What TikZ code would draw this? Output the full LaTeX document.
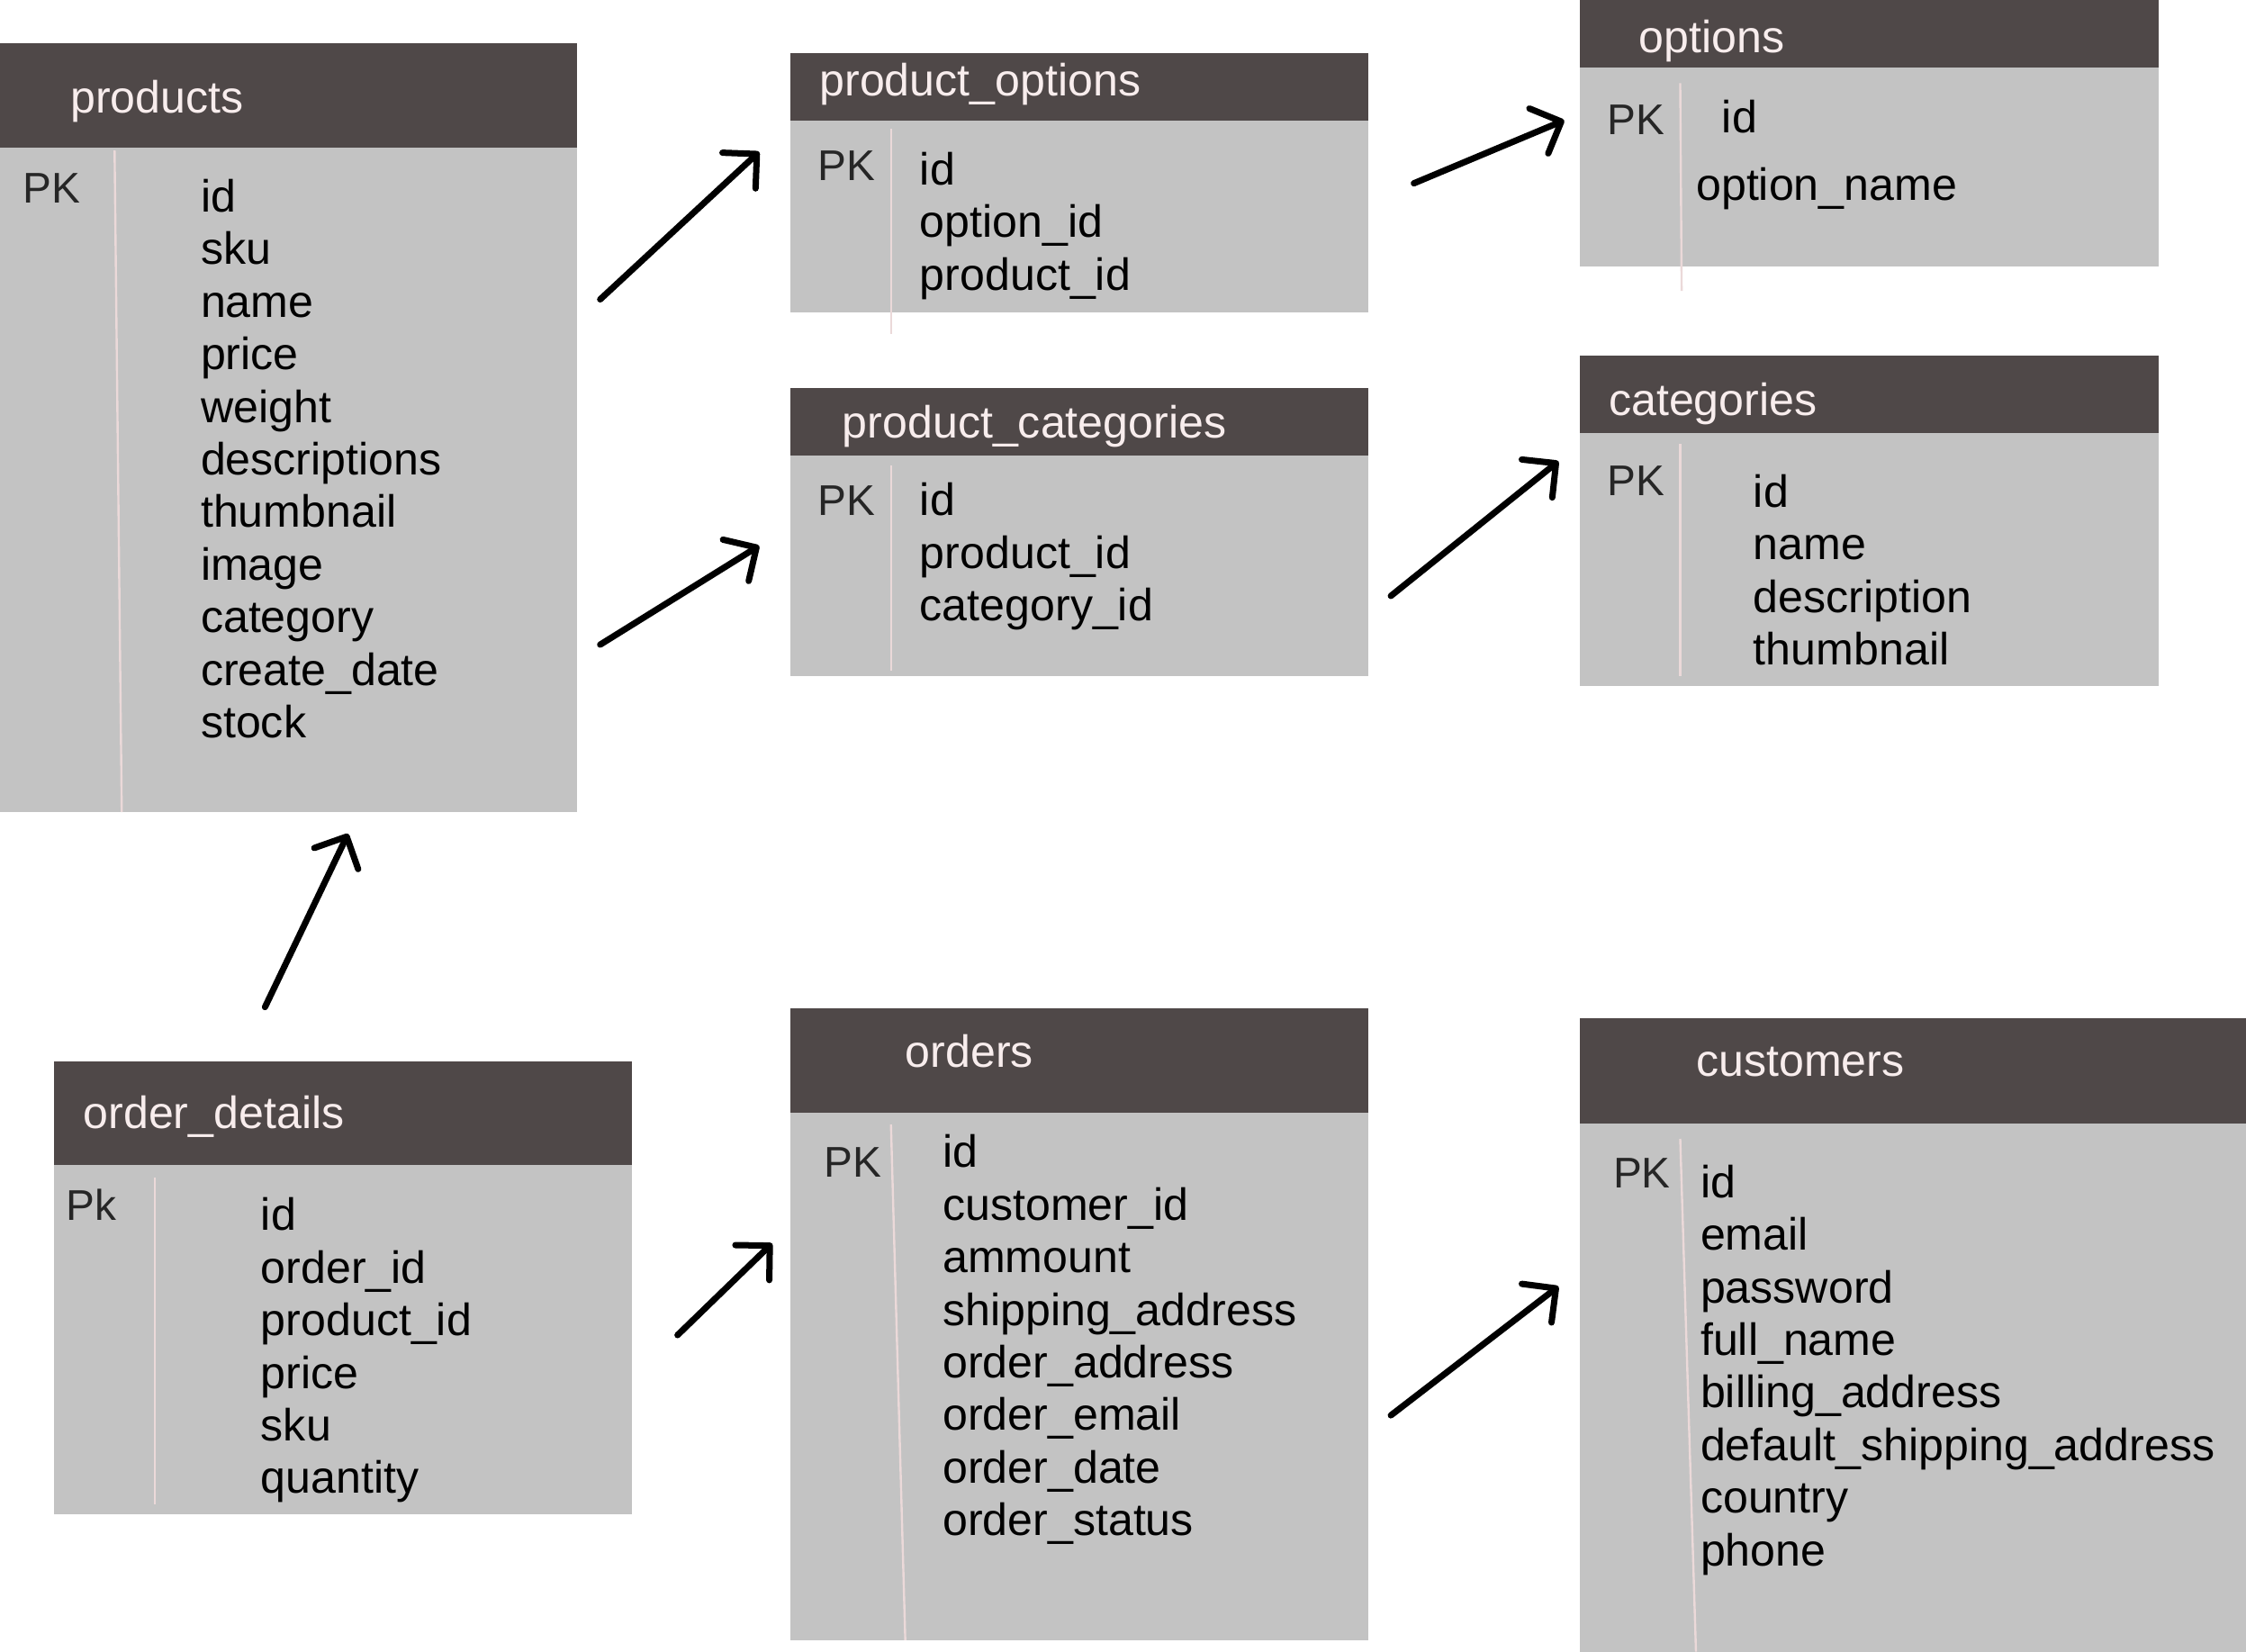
\documentclass[tikz,border=0pt]{standalone}
\usepackage{fontspec}
\setmainfont{Liberation Sans}
\usetikzlibrary{arrows.meta}
\definecolor{headgray}{HTML}{4F4848}
\definecolor{bodygray}{HTML}{C3C3C3}
\definecolor{titlepink}{HTML}{F8EDED}
\definecolor{rulepink}{HTML}{EBD9D9}
\newcommand{\tabfont}{\fontsize{31.5pt}{36.7pt}\selectfont}

\begin{document}
\begin{tikzpicture}[x=1pt, y=-1pt,
    tablehead/.style={fill=headgray, inner sep=0pt, outer sep=0pt, anchor=north west},
    tablebody/.style={fill=bodygray, inner sep=0pt, outer sep=0pt, anchor=north west},
    tabletitle/.style={text=titlepink, inner sep=0pt, anchor=base west, font=\tabfont},
    pklabel/.style={text=black!85, inner sep=0pt, anchor=base west, font=\fontsize{30pt}{36pt}\selectfont},
    fieldtext/.style={inner sep=0pt, anchor=base west, font=\tabfont},
    divider/.style={rulepink, line width=1.5pt},
    relarrow/.style={line width=4.4pt, line cap=round,
      -{Straight Barb[length=17pt, width=34pt, round]}}]
  \useasboundingbox (0,0) rectangle (1568,1153);

  % products
  \node[tablehead, minimum width=403pt, minimum height=73pt] (prodhead) at (0,30) {};
  \node[tablebody, minimum width=403pt, minimum height=464pt] (prodbody) at (0,103) {};
  \node[tabletitle] (prodtitle) at (49,79) {products};
  \node[pklabel] (prodpk) at (16,142) {PK};
  \draw[divider] (80,105) -- (85,567);
  \foreach \f [count=\i from 0] in {id,sku,name,price,weight,descriptions,
      thumbnail,image,category,create\_date,stock}
    \node[fieldtext] (prod\i) at (140,148+36.7*\i) {\f};

  % product_options
  \node[tablehead, minimum width=403pt, minimum height=47pt] (pohead) at (552,37) {};
  \node[tablebody, minimum width=403pt, minimum height=134pt] (pobody) at (552,84) {};
  \node[tabletitle] (potitle) at (572,67) {product\_options};
  \node[pklabel] (popk) at (571,126) {PK};
  \draw[divider] (622,90) -- (622,233);
  \foreach \f [count=\i from 0] in {id,option\_id,product\_id}
    \node[fieldtext] (po\i) at (642,129+36.7*\i) {\f};

  % options
  \node[tablehead, minimum width=404pt, minimum height=47pt] (opthead) at (1103,0) {};
  \node[tablebody, minimum width=404pt, minimum height=139pt] (optbody) at (1103,47) {};
  \node[tabletitle] (opttitle) at (1144,37) {options};
  \node[pklabel] (optpk) at (1122,94) {PK};
  \draw[divider] (1173,58) -- (1174,203);
  \node[fieldtext] (opt0) at (1202,93) {id};
  \node[fieldtext] (opt1) at (1184,140) {option\_name};

  % product_categories
  \node[tablehead, minimum width=403pt, minimum height=47pt] (pchead) at (552,271) {};
  \node[tablebody, minimum width=403pt, minimum height=154pt] (pcbody) at (552,318) {};
  \node[tabletitle] (pctitle) at (588,306) {product\_categories};
  \node[pklabel] (pcpk) at (571,360) {PK};
  \draw[divider] (622,325) -- (622,468);
  \foreach \f [count=\i from 0] in {id,product\_id,category\_id}
    \node[fieldtext] (pc\i) at (642,360+36.7*\i) {\f};

  % categories
  \node[tablehead, minimum width=404pt, minimum height=54pt] (cathead) at (1103,248) {};
  \node[tablebody, minimum width=404pt, minimum height=177pt] (catbody) at (1103,302) {};
  \node[tabletitle] (cattitle) at (1123,290) {categories};
  \node[pklabel] (catpk) at (1122,346) {PK};
  \draw[divider] (1173,310) -- (1173,472);
  \foreach \f [count=\i from 0] in {id,name,description,thumbnail}
    \node[fieldtext] (cat\i) at (1224,354+36.7*\i) {\f};

  % order_details
  \node[tablehead, minimum width=403pt, minimum height=72pt] (odhead) at (38,741) {};
  \node[tablebody, minimum width=403pt, minimum height=244pt] (odbody) at (38,813) {};
  \node[tabletitle] (odtitle) at (58,788) {order\_details};
  \node[pklabel] (odpk) at (46,852) {Pk};
  \draw[divider] (108,822) -- (108,1050);
  \foreach \f [count=\i from 0] in {id,order\_id,product\_id,price,sku,quantity}
    \node[fieldtext] (od\i) at (182,859+36.7*\i) {\f};

  % orders
  \node[tablehead, minimum width=403pt, minimum height=73pt] (ordhead) at (552,704) {};
  \node[tablebody, minimum width=403pt, minimum height=368pt] (ordbody) at (552,777) {};
  \node[tabletitle] (ordtitle) at (632,745) {orders};
  \node[pklabel] (ordpk) at (575,822) {PK};
  \draw[divider] (622,785) -- (632,1145);
  \foreach \f [count=\i from 0] in {id,customer\_id,ammount,shipping\_address,
      order\_address,order\_email,order\_date,order\_status}
    \node[fieldtext] (ord\i) at (658,815+36.7*\i) {\f};

  % customers
  \node[tablehead, minimum width=465pt, minimum height=73pt] (custhead) at (1103,711) {};
  \node[tablebody, minimum width=465pt, minimum height=369pt] (custbody) at (1103,784) {};
  \node[tabletitle] (custtitle) at (1184,751) {customers};
  \node[pklabel] (custpk) at (1126,829) {PK};
  \draw[divider] (1173,795) -- (1184,1153);
  \foreach \f [count=\i from 0] in {id,email,password,full\_name,billing\_address,
      default\_shipping\_address,country,phone}
    \node[fieldtext] (cust\i) at (1187,836+36.7*\i) {\f};

  % links
  \coordinate (l1s) at (419,209);  \coordinate (l1e) at (530,106);
  \coordinate (l2s) at (419,450);  \coordinate (l2e) at (530,381);
  \coordinate (l3s) at (987,128);  \coordinate (l3e) at (1092,84);
  \coordinate (l4s) at (971,416);  \coordinate (l4e) at (1088,322);
  \coordinate (l5s) at (185,703);  \coordinate (l5e) at (243,582);
  \coordinate (l6s) at (473,932);  \coordinate (l6e) at (539,868);
  \coordinate (l7s) at (971,988);  \coordinate (l7e) at (1088,898);
  \draw[relarrow] (l1s) -- (l1e);
  \draw[relarrow] (l2s) -- (l2e);
  \draw[relarrow] (l3s) -- (l3e);
  \draw[relarrow] (l4s) -- (l4e);
  \draw[relarrow] (l5s) -- (l5e);
  \draw[relarrow] (l6s) -- (l6e);
  \draw[relarrow] (l7s) -- (l7e);
\end{tikzpicture}
\end{document}
